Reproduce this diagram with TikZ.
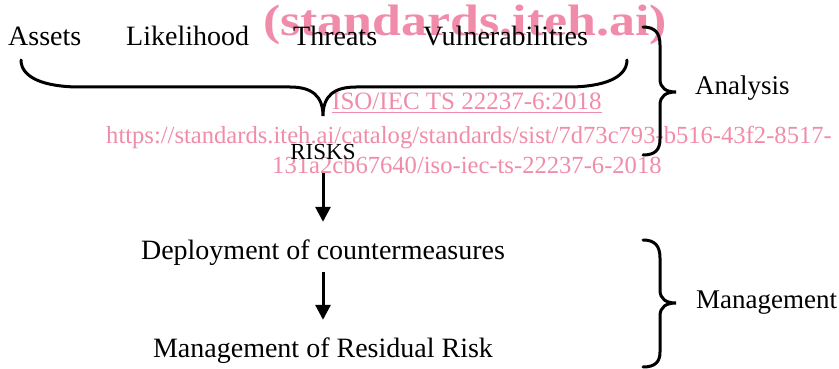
\documentclass[tikz,border=0pt]{standalone}
\usepackage{fontspec}
\setmainfont{Liberation Serif}
\usetikzlibrary{arrows.meta}
\definecolor{wmpink}{HTML}{F08CAA}

\begin{document}
\begin{tikzpicture}[x=1pt,y=-1pt,>={Triangle[length=15pt,width=15pt]},
 lbl/.style={inner sep=0pt,anchor=base west,font=\fontsize{28}{30}\selectfont},
 flow/.style={inner sep=0pt,anchor=base,text height=19pt,text depth=6pt,font=\fontsize{28}{30}\selectfont},
 wm/.style={inner sep=0pt,anchor=base west,text=wmpink,font=\fontsize{24.6}{26}\selectfont},
 a/.style={->,line width=3pt,shorten <=7pt,shorten >=18pt},
 br/.style={line width=3pt,line cap=round}]
\useasboundingbox (0,0) rectangle (839,369);
% watermark
\node[wm,font=\bfseries\fontsize{44}{46}\selectfont] (wmsite) at (263,36) {\scalebox{1.18}[1]{(standards.iteh.ai)}};
\node[wm,font=\fontsize{25}{27}\selectfont] (wmiso) at (332,110) {\underline{ISO/IEC TS 22237-6:2018}};
\node[wm] (wmurla) at (106,143) {https://standards.iteh.ai/catalog/standards/sist/7d73c793-b516-43f2-8517-};
\node[wm] (wmurlb) at (272,173) {131a2cb67640/iso-iec-ts-22237-6-2018};
% factors
\node[lbl] (assets) at (8,46) {Assets};
\node[lbl] (likely) at (126,46) {Likelihood};
\node[lbl] (threats) at (293,46) {Threats};
\node[lbl] (vulns) at (423,46) {Vulnerabilities};
\draw[br] (21,60) .. controls (21,78) and (45,87) .. (80,87) -- (290,87)
 .. controls (312,87) and (323,96) .. (323,116) .. controls (323,96) and (334,87) .. (356,87)
 -- (568,87) .. controls (603,87) and (627,78) .. (627,60);
% flow
\node[flow,font=\fontsize{23}{25}\selectfont] (risks) at (323,160) {RISKS};
\node[flow] (deploy) at (323,259) {Deployment of countermeasures};
\node[flow] (resid) at (323,357) {Management of Residual Risk};
\draw[a] (risks) -- (deploy);
\draw[a] (deploy) -- (resid);
% phases
\draw[br] (643,27) .. controls (655,27) and (660,33) .. (660,45) -- (660,79)
 .. controls (660,88) and (666,92) .. (676,92) .. controls (666,92) and (660,96) .. (660,105)
 -- (660,139) .. controls (660,150) and (655,155) .. (643,155);
\node[lbl,font=\fontsize{27}{29}\selectfont] (analysis) at (695,95) {Analysis};
\draw[br] (643,240) .. controls (655,240) and (660,246) .. (660,258) -- (660,290)
 .. controls (660,299) and (666,303) .. (676,303) .. controls (666,303) and (660,307) .. (660,316)
 -- (660,352) .. controls (660,362) and (655,367) .. (643,367);
\node[lbl,font=\fontsize{27}{29}\selectfont] (mgmt) at (696,308) {Management};
\end{tikzpicture}
\end{document}
